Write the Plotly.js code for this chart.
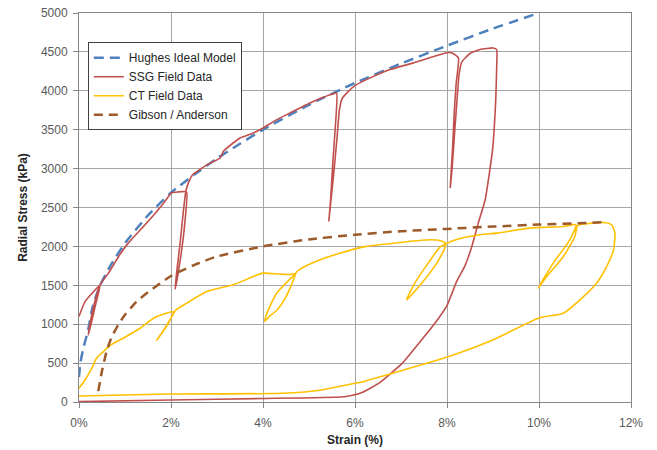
<!DOCTYPE html>
<html>
<head>
<meta charset="utf-8">
<script src="https://cdn.plot.ly/plotly-3.0.1.min.js"></script>
<style>html,body{margin:0;padding:0;background:#fff;}#chart{width:657px;height:450px;}</style>
</head>
<body>
<div id="chart"></div>
<script>
// Hughes Ideal Model
var hughesX = [0, 0.03, 0.09, 0.2, 0.3, 0.46, 0.7, 1, 1.5, 2, 2.5, 3, 3.5, 4, 5, 6, 7, 8, 9, 10];
var hughesY = [320, 500, 680, 930, 1230, 1500, 1770, 2040, 2400, 2690, 2920, 3130, 3320, 3500, 3820, 4100, 4350, 4580, 4800, 5000];

// SSG Field Data
var ssgX = [0, 0.13, 0.35, 0.46, 0.36, 0.27, 0.2, 0.27, 0.37, 0.46, 0.64, 0.86, 1.07, 1.36, 1.65, 1.87, 2.01, 2.15, 2.34,
  2.3, 2.22, 2.14, 2.09, 2.12, 2.19, 2.26, 2.32, 2.38, 2.47, 2.63, 2.85, 3.07, 3.14, 3.35, 3.5, 3.79, 4.0, 4.3, 4.59, 5.02, 5.46, 5.6,
  5.58, 5.52, 5.47, 5.43, 5.47, 5.54, 5.61, 5.66, 5.72, 5.85, 6.0, 6.33, 6.76, 7.27, 7.99, 8.1, 8.25,
  8.2, 8.16, 8.12, 8.07, 8.11, 8.17, 8.22, 8.26, 8.32, 8.5, 8.72, 9.0, 9.08,
  9.08, 9.06, 8.99, 8.83, 8.67, 8.54, 8.39, 8.21, 8.0, 7.72, 7.38, 7.03, 6.54, 6.18, 5.9, 5.7, 4, 2, 0];
var ssgY = [1100, 1290, 1440, 1505, 1250, 1020, 860, 1100, 1350, 1510, 1656, 1870, 2042, 2230, 2420, 2580, 2690, 2700, 2700,
  2300, 1900, 1600, 1450, 1650, 2000, 2400, 2700, 2820, 2920, 2990, 3070, 3136, 3222, 3329, 3394, 3458, 3522, 3629, 3716, 3844, 3950, 3970,
  3600, 3100, 2600, 2320, 2550, 2950, 3400, 3750, 3900, 3990, 4067, 4166, 4273, 4359, 4488, 4490, 4423,
  4100, 3750, 3250, 2750, 3000, 3500, 3900, 4200, 4370, 4480, 4530, 4551, 4530,
  4300, 3890, 3240, 2600, 2280, 2000, 1750, 1550, 1240, 1000, 750, 500, 250, 130, 80, 65, 45, 25, 5];

// CT Field Data
var ctX = [0, 0.13, 0.28, 0.38, 0.53, 0.67, 0.96, 1.33, 1.62, 1.9, 2.05,
  1.95, 1.82, 1.69, 1.78, 1.9, 2.02, 2.1, 2.34, 2.78, 3.35, 3.79, 4.0, 4.35, 4.6, 4.7,
  4.5, 4.3, 4.15, 4.06, 4.04, 4.12, 4.3, 4.48, 4.6, 4.68, 4.72, 4.8, 5.24, 5.67, 6.25, 6.98, 7.63, 7.88, 7.97,
  7.96, 7.78, 7.45, 7.2, 7.12, 7.3, 7.59, 7.85, 8.0, 8.21, 8.72, 9.08, 9.8, 10.53, 10.8,
  10.67, 10.31, 9.98, 10.17, 10.53, 10.78, 10.84, 11.04, 11.4, 11.58, 11.65, 11.62, 11.47, 11.25, 10.89, 10.53, 10.0,
  9.08, 8.35, 7.99, 7.56, 6.69, 6.43, 6.18, 6.0, 5.46, 5.28, 4.41, 1.94, 0];
var ctY = [176, 283, 434, 562, 648, 725, 820, 948, 1077, 1141, 1160,
  1020, 900, 795, 870, 980, 1100, 1180, 1270, 1420, 1506, 1613, 1656, 1645, 1640, 1650,
  1530, 1400, 1230, 1100, 1034, 1090, 1180, 1330, 1480, 1600, 1665, 1705, 1827, 1913, 2000, 2050, 2085, 2070, 2040,
  1990, 1785, 1527, 1360, 1313, 1527, 1785, 1990, 2040, 2090, 2150, 2171, 2235, 2256, 2278,
  2085, 1785, 1463, 1613, 1870, 2127, 2270, 2291, 2308, 2278, 2171, 1956, 1741, 1527, 1313, 1141, 1080,
  820, 648, 575, 498, 347, 305, 261, 240, 176, 154, 112, 103, 78];

// Gibson / Anderson
var gibsonX = [0.42, 0.5, 0.6, 0.7, 0.85, 1.0, 1.25, 1.5, 2, 2.5, 3, 4, 5, 6, 7, 8, 9, 10, 11, 11.4];
var gibsonY = [140, 400, 650, 820, 990, 1120, 1290, 1410, 1620, 1760, 1870, 2000, 2090, 2150, 2195, 2225, 2255, 2280, 2300, 2310];

var xTicks = [0, 2, 4, 6, 8, 10, 12];
var xTickText = ['0%', '2%', '4%', '6%', '8%', '10%', '12%'];

var traces = [
  {x: hughesX, y: hughesY, name: 'Hughes Ideal Model', mode: 'lines',
   line: {color: '#4F81BD', width: 2.5, dash: '10px,6px', shape: 'spline', smoothing: 0.6}},
  {x: ssgX, y: ssgY, name: 'SSG Field Data', mode: 'lines',
   line: {color: '#C0504D', width: 1.6, shape: 'spline', smoothing: 0.4}},
  {x: ctX, y: ctY, name: 'CT Field Data', mode: 'lines',
   line: {color: '#FFC000', width: 1.6, shape: 'spline', smoothing: 0.6}},
  {x: gibsonX, y: gibsonY, name: 'Gibson / Anderson', mode: 'lines',
   line: {color: '#9C5A2A', width: 2.5, dash: '9px,6px', shape: 'spline', smoothing: 0.6}}
];

var layout = {
  width: 657, height: 450,
  margin: {l: 79, r: 26, t: 13, b: 48},
  paper_bgcolor: '#ffffff', plot_bgcolor: '#ffffff',
  font: {family: 'Arial, "Liberation Sans", sans-serif', size: 12, color: '#595959'},
  showlegend: true,
  legend: {x: 0.016, y: 0.925, xanchor: 'left', yanchor: 'top',
    bgcolor: '#ffffff', bordercolor: '#404040', borderwidth: 1,
    font: {size: 12, color: '#262626'}, itemwidth: 30, tracegroupgap: 0},
  xaxis: {range: [0, 12], tickvals: xTicks, ticktext: xTickText,
    showgrid: true, gridcolor: '#A6A6A6', gridwidth: 1,
    showline: true, linecolor: '#868686', linewidth: 1, mirror: true,
    ticks: 'outside', ticklen: 5, tickcolor: '#868686', zeroline: false, ticklabelstandoff: 5,
    title: {text: '<b>Strain (%)</b>', font: {size: 12, color: '#262626'}, standoff: 6}},
  yaxis: {range: [0, 5000], dtick: 500, tick0: 0,
    showgrid: true, gridcolor: '#A6A6A6', gridwidth: 1,
    showline: true, linecolor: '#868686', linewidth: 1, mirror: true,
    ticks: 'outside', ticklen: 5, tickcolor: '#868686', zeroline: false, ticklabelstandoff: 3,
    title: {text: '<b>Radial Stress (kPa)</b>', font: {size: 12, color: '#262626'}, standoff: 10}}
};

Plotly.newPlot('chart', traces, layout, {displayModeBar: false, staticPlot: true});
</script>
</body>
</html>
